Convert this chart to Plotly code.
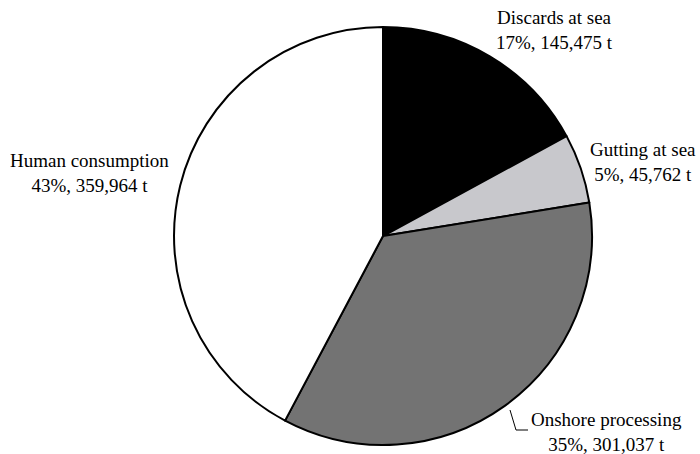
import plotly.graph_objects as go

categories = ["Discards at sea", "Gutting at sea", "Onshore processing", "Human consumption"]
tonnes = [145475, 45762, 301037, 359964]
pct_labels = ["17%", "5%", "35%", "43%"]
colors = ["#000000", "#c8c8cc", "#737373", "#ffffff"]

W, H = 700, 454

def px(x):
    return x / W

def py(y):
    return 1 - y / H

fig = go.Figure(go.Pie(
    labels=categories,
    values=tonnes,
    sort=False,
    direction="clockwise",
    rotation=0,
    marker=dict(colors=colors, line=dict(color="#000000", width=2)),
    textinfo="none",
    hoverinfo="label+value",
    showlegend=False,
    domain=dict(x=[0.2486, 0.8457], y=[0.0198, 0.9405]),
))

# label block centres (pixels)
label_pos = {
    "Discards at sea": (554, 30),
    "Gutting at sea": (643, 162),
    "Onshore processing": (606, 432),
    "Human consumption": (90, 173),
}

font = dict(family="Liberation Serif, Times New Roman, serif", size=19, color="#000000")
for cat, t, p in zip(categories, tonnes, pct_labels):
    x, y = label_pos[cat]
    fig.add_annotation(
        x=px(x), y=py(y), xref="paper", yref="paper",
        text=f"{cat}<br>{p}, {t:,} t",
        showarrow=False, xanchor="center",
        yanchor="middle", align="center",
        font=font,
    )

# leader line for onshore processing label
fig.add_shape(type="path", xref="paper", yref="paper",
              path=f"M {px(510)} {py(410)} L {px(516)} {py(430)} L {px(528)} {py(430)}",
              line=dict(color="#000000", width=1))

fig.update_layout(
    width=W, height=H,
    margin=dict(l=0, r=0, t=0, b=0),
    paper_bgcolor="#ffffff",
    plot_bgcolor="#ffffff",
)

fig.write_html("out.html", config={"displayModeBar": False},
               post_script="document.body.style.margin='0';")
